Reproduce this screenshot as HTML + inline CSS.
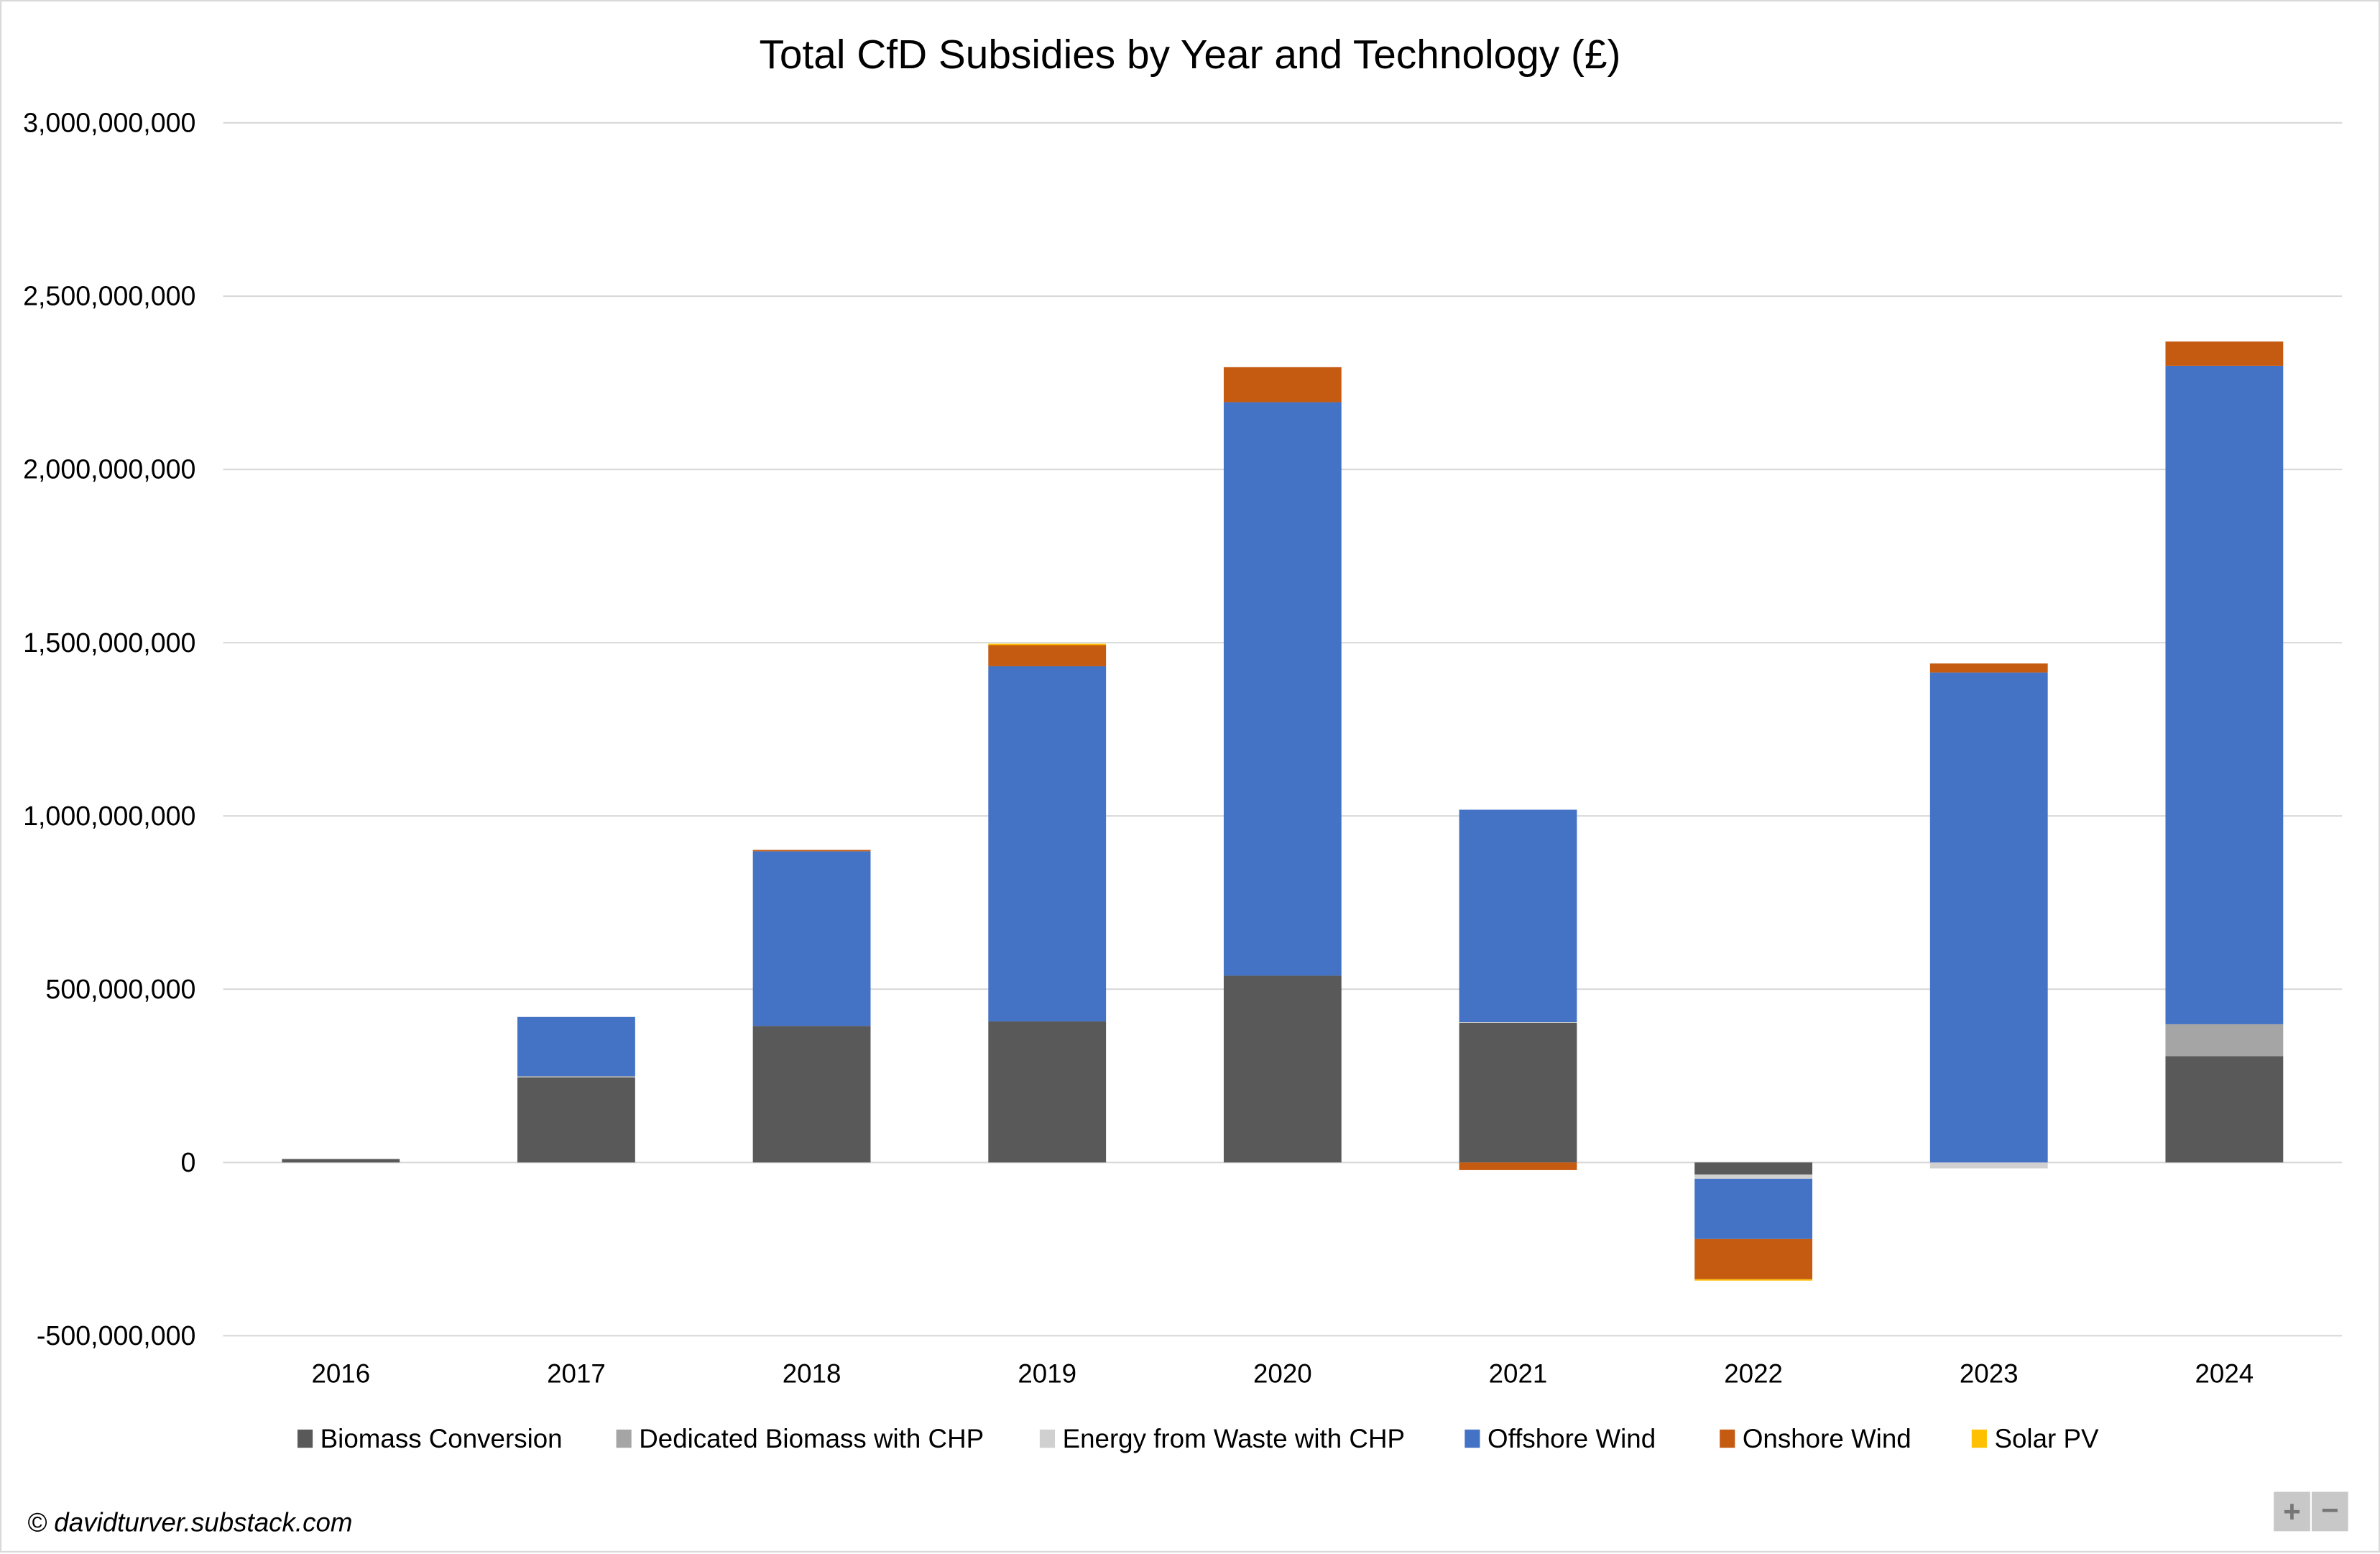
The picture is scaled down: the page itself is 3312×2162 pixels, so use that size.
<!DOCTYPE html>
<html><head><meta charset="utf-8"><style>
html,body{margin:0;padding:0;background:#fff;}
svg{display:block;font-family:"Liberation Sans",sans-serif;}
</style></head><body>
<svg id="chart" width="3312" height="2162" viewBox="0 0 1568 1024" preserveAspectRatio="none" xmlns="http://www.w3.org/2000/svg">
<rect x="0.5" y="0.5" width="1567" height="1022" fill="#fff" stroke="#d9d9d9"/>
<text x="784" y="45" text-anchor="middle" font-size="26.9" fill="#000">Total CfD Subsidies by Year and Technology (£)</text>
<g id="grid"></g><g id="bars"></g><g id="xlabels"></g><g id="legend"></g>
<text x="18" y="1009" font-size="17.4" font-style="italic" fill="#000">© davidturver.substack.com</text>
<g><rect x="1498" y="983" width="24" height="26" fill="#c8c8c8"/><text x="1510" y="1003" text-anchor="middle" font-size="20" font-weight="bold" fill="#777">+</text></g>
<g><rect x="1523" y="983" width="24" height="26" fill="#c8c8c8"/><text x="1535" y="1002" text-anchor="middle" font-size="20" font-weight="bold" fill="#777">−</text></g>
</svg>
<script>
const years=["2016","2017","2018","2019","2020","2021","2022","2023","2024"];
const seriesNames=["Biomass Conversion","Dedicated Biomass with CHP","Energy from Waste with CHP","Offshore Wind","Onshore Wind","Solar PV"];
const seriesColors=["#595959","#a5a5a5","#d0d0d0","#4472c4","#c55a11","#ffc000"];
const biomass=[10e6,245e6,394e6,407e6,539e6,403e6,-35e6,0,307e6];
const dedicated=[0,4e6,0,0,0,0,0,0,92e6];
const efw=[0,0,0,0,0,2e6,-12e6,-17e6,0];
const offshore=[0,171e6,504e6,1025e6,1655e6,613e6,-174e6,1414e6,1900e6];
const onshore=[0,0,4e6,61e6,101e6,-22e6,-116e6,26e6,70e6];
const solar=[0,0,0,4e6,0,0,-4e6,0,0];
const ticks=[-500e6,0,500e6,1000e6,1500e6,2000e6,2500e6,3000e6];
const series=[biomass,dedicated,efw,offshore,onshore,solar];
const NS="http://www.w3.org/2000/svg";
const X0=147,X1=1543;
const band=(X1-X0)/years.length;
function y(v){return 766 - v/500e6*114.17;}
function xc(i){return X0+(i+0.5)*band;}
function mk(tag,attrs,parent){const e=document.createElementNS(NS,tag);for(const k in attrs)e.setAttribute(k,attrs[k]);parent.appendChild(e);return e;}
const grid=document.getElementById('grid');
ticks.forEach(t=>{
  const l=mk('line',{x1:X0,x2:X1,y1:y(t),y2:y(t),stroke:'#d9d9d9','stroke-width':1},grid);
  
  
  const tx=mk('text',{x:129,y:y(t)+6,'text-anchor':'end','font-size':17.8,fill:'#000'},grid);
  tx.textContent=t.toLocaleString('en-US');
  
  
});
const bars=document.getElementById('bars');
const bw=band*0.5;
years.forEach((yr,i)=>{
  let pos=0,neg=0;
  series.forEach((s,k)=>{
    const v=s[i]; if(!v) return;
    let a,b;
    if(v>0){a=pos;b=pos+v;pos=b;}else{a=neg;b=neg+v;neg=b;}
    const top=Math.min(y(a),y(b)),h=Math.abs(y(a)-y(b));
    const r=mk('rect',{x:xc(i)-bw/2,y:top,width:bw,height:h,fill:seriesColors[k]},bars);
    
    
  });
  const t=mk('text',{x:xc(i),y:911,'text-anchor':'middle','font-size':17.4,fill:'#000'},document.getElementById('xlabels'));
  t.textContent=yr;
  
  
});
const legend=document.getElementById('legend');
const lx=[196,406,685,965,1133,1299];
seriesNames.forEach((n,k)=>{
  const g=mk('g',{},legend);
  
  
  mk('rect',{x:lx[k],y:942,width:10,height:12,fill:seriesColors[k]},g);
  const t=mk('text',{x:lx[k]+15,y:954,'font-size':17.4,fill:'#000'},g);
  t.textContent=n;
});
</script>
</body></html>
